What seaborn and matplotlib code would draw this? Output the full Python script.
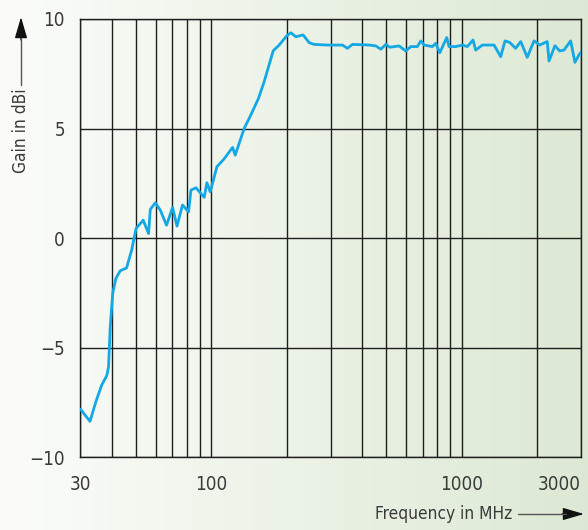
import numpy as np
import pandas as pd
import seaborn as sns
import matplotlib.pyplot as plt
from matplotlib import font_manager
from matplotlib.ticker import FixedLocator, NullFormatter

# gain curve
freq_mhz = [30, 32.8, 34.6, 36.5, 38.3, 38.9, 39.5, 40.4, 41.6, 43.3,
            45.9, 48.1, 50.1, 53.5, 56.2, 57.1, 59.8, 62.6, 66.3, 70.1,
            73.0, 76.8, 81.2, 83.0, 86.9, 93.8, 96.1, 99.1, 105.4, 112.7,
            121.7, 124.7, 135.5, 144.0, 154.5, 162.8, 176.9, 186.9, 199.9, 208.1,
            217.9, 233.0, 246.2, 257.8, 291.3, 334.4, 350.1, 366.6, 427.6, 454.6,
            476.0, 498.4, 516.9, 563.2, 598.8, 627.1, 666.2, 687.4, 708.6, 764.8,
            789.0, 818.7, 873.0, 891.6, 948.4, 1008, 1055, 1112, 1139, 1211,
            1349, 1434, 1492, 1558, 1646, 1724, 1831, 1948, 2053, 2201,
            2236, 2362, 2467, 2566, 2729, 2839, 2945, 3000]
gain_dbi = [-7.8, -8.36, -7.47, -6.71, -6.26, -5.87, -4.05, -2.53, -1.84, -1.49,
            -1.36, -0.55, 0.44, 0.82, 0.21, 1.31, 1.61, 1.28, 0.59, 1.40,
            0.55, 1.51, 1.20, 2.19, 2.30, 1.86, 2.53, 2.11, 3.26, 3.62,
            4.14, 3.79, 5.01, 5.62, 6.38, 7.14, 8.55, 8.81, 9.22, 9.37,
            9.19, 9.27, 8.92, 8.84, 8.81, 8.81, 8.66, 8.84, 8.81, 8.77,
            8.62, 8.84, 8.71, 8.77, 8.54, 8.74, 8.74, 9.00, 8.81, 8.74,
            8.89, 8.46, 9.15, 8.74, 8.74, 8.81, 8.74, 9.04, 8.58, 8.81,
            8.81, 8.28, 9.00, 8.93, 8.66, 8.97, 8.25, 9.00, 8.81, 8.97,
            8.08, 8.78, 8.54, 8.58, 9.00, 8.02, 8.36, 8.48]

x_ticks = [30, 100, 1000, 3000]
x_ticklabels = ["30", "100", "1000", "3000"]
x_grid = [40, 50, 60, 70, 80, 90, 200, 300, 400, 500, 600, 700, 800, 900, 2000]
y_ticks = [-10, -5, 0, 5, 10]
y_ticklabels = ["\u221210", "\u22125", "0", "5", "10"]

sns.set_style("white")

# the reference uses a condensed sans; take the narrowest one installed
names = {f.name for f in font_manager.fontManager.ttflist}
condensed = [f for f in font_manager.fontManager.ttflist
             if f.stretch in ("condensed", "semi-condensed", 600, 700, 500)]
if "Liberation Sans Narrow" in names:
    plt.rcParams["font.family"] = ["Liberation Sans Narrow", "DejaVu Sans"]
elif any(f.name == "DejaVu Sans" for f in condensed):
    plt.rcParams["font.family"] = ["DejaVu Sans"]
    plt.rcParams["font.stretch"] = "condensed"
else:
    plt.rcParams["font.family"] = ["Roboto", "DejaVu Sans"]

text_col = "#3a3a3a"
grid_col = "#1e1e1e"

fig = plt.figure(figsize=(5.88, 5.30), dpi=100)

# soft white-to-green background
bg = fig.add_axes([0, 0, 1, 1], zorder=0)
grad = np.linspace(0, 1, 256)
c0 = np.array([0.985, 0.99, 0.98])
c1 = np.array([0.865, 0.913, 0.83])
img = c0[None, :] + (c1 - c0)[None, :] * grad[:, None]
bg.imshow(img[None, :, :], aspect="auto", extent=[0, 1, 0, 1])
bg.set_xlim(0, 1)
bg.set_ylim(0, 1)
bg.set_axis_off()

ax = fig.add_axes([0.1366, 0.1372, 0.988 - 0.1366, 0.9642 - 0.1372], zorder=1)
ax.patch.set_alpha(0)

df = pd.DataFrame({"freq": freq_mhz, "gain": gain_dbi})
sns.lineplot(data=df, x="freq", y="gain", ax=ax, color="#14a8e4", lw=2.0,
             estimator=None, sort=False, zorder=3)

ax.set_xscale("log")
ax.set_xlim(30, 3000)
ax.set_ylim(-10, 10)

ax.xaxis.set_major_locator(FixedLocator(x_ticks))
ax.set_xticklabels(x_ticklabels)
ax.xaxis.set_minor_locator(FixedLocator(x_grid))
ax.xaxis.set_minor_formatter(NullFormatter())
ax.set_yticks(y_ticks)
ax.set_yticklabels(y_ticklabels)
ax.get_xticklabels()[-1].set_ha("right")

for v in x_ticks + x_grid:
    ax.axvline(v, color=grid_col, lw=1.0, zorder=1)
for v in y_ticks:
    ax.axhline(v, color=grid_col, lw=1.0, zorder=1)

ax.tick_params(axis="x", which="major", length=7, width=1, color=grid_col,
               labelsize=13.5, labelcolor=text_col, pad=6)
ax.tick_params(axis="x", which="minor", length=0)
ax.tick_params(axis="y", length=8, width=1, color=grid_col,
               labelsize=13.5, labelcolor=text_col, pad=3)
for s in ax.spines.values():
    s.set_color(grid_col)
    s.set_linewidth(1.0)

ax.set_xlabel("")
ax.set_ylabel("")

# axis titles with arrows
fig.text(512 / 588, 1 - 514 / 530, "Frequency in MHz", fontsize=12.4,
         color=text_col, ha="right", va="center")
fig.text(21 / 588, 1 - 131 / 530, "Gain in dBi", fontsize=12.4,
         color=text_col, ha="center", va="center", rotation=90)
fig.add_artist(plt.Line2D([518 / 588, 566 / 588], [1 - 514 / 530] * 2,
                          color="#555555", lw=1.0))
bg.annotate("", xy=(584 / 588, 1 - 514 / 530), xytext=(562 / 588, 1 - 514 / 530),
            xycoords="figure fraction",
            arrowprops=dict(arrowstyle="-|>,head_length=1.3,head_width=0.38",
                            color="#111111", lw=1.0, shrinkA=0, shrinkB=0))
fig.add_artist(plt.Line2D([21 / 588] * 2, [1 - 85 / 530, 1 - 38 / 530],
                          color="#555555", lw=1.0))
bg.annotate("", xy=(21 / 588, 1 - 17 / 530), xytext=(21 / 588, 1 - 40 / 530),
            xycoords="figure fraction",
            arrowprops=dict(arrowstyle="-|>,head_length=1.3,head_width=0.38",
                            color="#111111", lw=1.0, shrinkA=0, shrinkB=0))

fig.savefig("out.png", dpi=100)
